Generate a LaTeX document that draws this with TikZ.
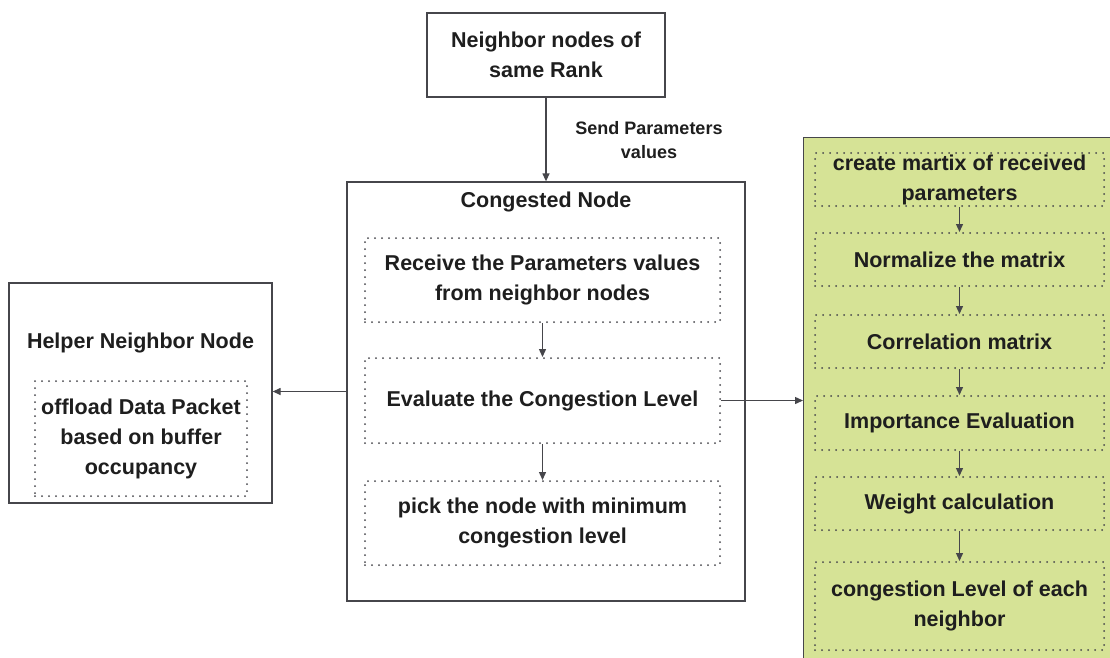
\documentclass[tikz,border=0pt]{standalone}
\usepackage{fontspec}
\setmainfont{Liberation Sans}
\usetikzlibrary{arrows.meta}
\definecolor{boxline}{RGB}{70,70,75}
\definecolor{txt}{RGB}{30,30,30}
\definecolor{greenfill}{RGB}{214,227,150}
\tikzset{
  solidbox/.style={draw=boxline, line width=1.3pt, rectangle, inner sep=0pt},
  dotbox/.style={draw=boxline, line width=2pt, line cap=round, dash pattern=on 0pt off 7pt, rectangle, inner sep=0pt, align=center, text=txt, font=\fontsize{21.5}{30}\selectfont\bfseries},
  title/.style={text=txt, font=\fontsize{21.5}{30}\selectfont\bfseries, align=center, inner sep=0pt},
  arr/.style={draw=boxline, line width=1.3pt, -{Triangle[length=8pt,width=7pt]}},
}
\begin{document}
\begin{tikzpicture}[x=1pt,y=-1pt]
\useasboundingbox (0,0) rectangle (1110,657);
\fill[white] (0,0) rectangle (1110,657);
% top node
\node[solidbox, minimum width=238pt, minimum height=84pt, title] (top) at (546,55) {Neighbor nodes of\\same Rank};
% congested node
\node[solidbox, minimum width=398pt, minimum height=419pt] (cong) at (546,391.5) {};
\node[title] (congt) at (546,202) {Congested Node};
\node[dotbox, minimum width=355pt, minimum height=84pt] (rec) at (542.5,280) {Receive the Parameters values\\from neighbor nodes};
\node[dotbox, minimum width=355pt, minimum height=85pt] (eval) at (542.5,400.5) {Evaluate the Congestion Level};
\node[dotbox, minimum width=355pt, minimum height=84pt] (pick) at (542.5,523) {pick the node with minimum\\congestion level};
% helper
\node[solidbox, minimum width=263pt, minimum height=220pt] (helper) at (140.5,393) {};
\node[title] (helpert) at (140.5,343) {Helper Neighbor Node};
\node[dotbox, minimum width=212pt, minimum height=115pt] (off) at (141,438.5) {offload Data Packet\\based on buffer\\occupancy};
% green panel
\node[solidbox, fill=greenfill, minimum width=320pt, minimum height=530pt, anchor=north west] (green) at (803,137) {};
\node[dotbox, minimum width=289pt, minimum height=53pt] (g1) at (959.5,179.5) {create martix of received\\parameters};
\node[dotbox, minimum width=289pt, minimum height=53pt] (g2) at (959.5,259.5) {Normalize the matrix};
\node[dotbox, minimum width=289pt, minimum height=53pt] (g3) at (959.5,341.5) {Correlation matrix};
\node[dotbox, minimum width=289pt, minimum height=54pt] (g4) at (959.5,423) {Importance Evaluation};
\node[dotbox, minimum width=289pt, minimum height=53pt] (g5) at (959.5,503.5) {Weight calculation};
\node[dotbox, minimum width=289pt, minimum height=88pt] (g6) at (959.5,606) {congestion Level of each\\neighbor};
% label
\node[text=txt, font=\fontsize{18}{24}\selectfont\bfseries, align=center, inner sep=0pt] (lbl) at (649,140) {Send Parameters\\values};
% connectors
\draw[arr] (top.south) -- (cong.north);
\draw[arr] (rec.south) -- (eval.north);
\draw[arr] (eval.south) -- (pick.north);
\draw[arr] (cong.west) -- (cong.west -| helper.east);
\draw[arr] (eval.east) -- (eval.east -| green.west);
\draw[arr] (g1.south) -- (g2.north);
\draw[arr] (g2.south) -- (g3.north);
\draw[arr] (g3.south) -- (g4.north);
\draw[arr] (g4.south) -- (g5.north);
\draw[arr] (g5.south) -- (g6.north);
\end{tikzpicture}
\end{document}
